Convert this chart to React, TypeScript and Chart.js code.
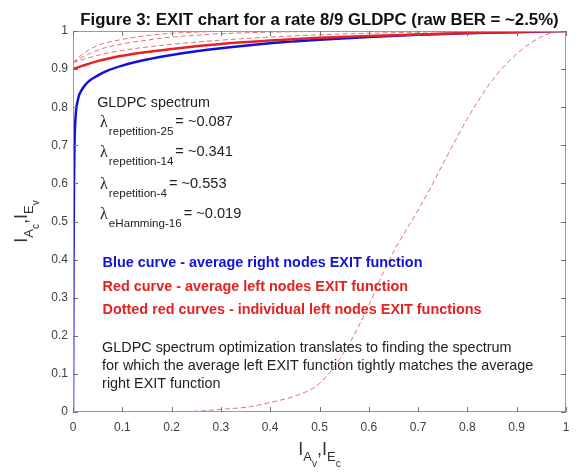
import React, { useEffect, useRef } from 'react';
import { Chart, registerables } from 'chart.js';

Chart.register(...registerables);

// ---- Data ----
const xTickLabels = ['0', '0.1', '0.2', '0.3', '0.4', '0.5', '0.6', '0.7', '0.8', '0.9', '1'];
const yTickLabels = ['0', '0.1', '0.2', '0.3', '0.4', '0.5', '0.6', '0.7', '0.8', '0.9', '1'];

// Blue: average right (check) nodes EXIT function
const blueX = [0, 0.0005, 0.001, 0.002, 0.003, 0.005, 0.01, 0.02, 0.03, 0.05, 0.07, 0.1, 0.15, 0.2, 0.25, 0.3, 0.4, 0.5, 0.6, 0.7, 0.8, 0.9, 1];
const blueY = [0, 0.2, 0.4, 0.6, 0.7, 0.77, 0.82, 0.85, 0.866, 0.883, 0.896, 0.909, 0.925, 0.937, 0.947, 0.955, 0.968, 0.977, 0.984, 0.99, 0.994, 0.997, 1];

// Red: average left nodes EXIT function
const redX = [0, 0.02, 0.05, 0.1, 0.15, 0.2, 0.25, 0.3, 0.4, 0.5, 0.6, 0.7, 0.8, 0.9, 1];
const redY = [0.9, 0.909, 0.921, 0.935, 0.945, 0.953, 0.96, 0.966, 0.975, 0.982, 0.987, 0.991, 0.995, 0.998, 1];

// Dashed: individual left node EXIT functions
const rep25X = [0, 0.02, 0.05, 0.1, 0.15, 0.2, 0.25, 0.3, 0.4, 0.5, 1];
const rep25Y = [0.917, 0.94, 0.962, 0.978, 0.988, 0.994, 0.997, 0.999, 1, 1, 1];
const rep14X = [0, 0.02, 0.05, 0.1, 0.15, 0.2, 0.25, 0.3, 0.4, 0.5, 0.6, 1];
const rep14Y = [0.917, 0.932, 0.95, 0.966, 0.976, 0.984, 0.989, 0.993, 0.997, 0.999, 1, 1];
const rep4X = [0, 0.02, 0.05, 0.1, 0.2, 0.3, 0.4, 0.5, 0.6, 0.7, 0.8, 0.9, 1];
const rep4Y = [0.917, 0.925, 0.936, 0.949, 0.965, 0.976, 0.984, 0.99, 0.994, 0.997, 0.999, 1, 1];
const ham16X = [0, 0.1, 0.2, 0.25, 0.3, 0.36, 0.4, 0.45, 0.5, 0.556, 0.6, 0.62, 0.65, 0.7, 0.726, 0.75, 0.8, 0.85, 0.9, 0.95, 0.98, 1];
const ham16Y = [0, 0, 0.001, 0.002, 0.007, 0.014, 0.025, 0.042, 0.075, 0.17, 0.28, 0.34, 0.42, 0.53, 0.59, 0.65, 0.77, 0.87, 0.94, 0.985, 0.998, 1];

const titleText = 'Figure 3: EXIT chart for a rate 8/9 GLDPC (raw BER = ~2.5%)';
const spectrumHeader = 'GLDPC spectrum';
const spectrumNames = ['repetition-25', 'repetition-14', 'repetition-4', 'eHamming-16'];
const spectrumValues = ['= ~0.087', '= ~0.341', '= ~0.553', '= ~0.019'];
const legendLines = [
  'Blue curve - average right nodes EXIT function',
  'Red curve - average left nodes EXIT function',
  'Dotted red curves - individual left nodes EXIT functions',
];
const noteLines = [
  'GLDPC spectrum optimization translates to finding the spectrum',
  'for which the average left EXIT function tightly matches the average',
  'right EXIT function',
];

// annotation anchor positions in data units
const headerPos = { x: 0.049, y: 0.811 };
const lambdaX = 0.055;
const lambdaY = [0.759, 0.68, 0.597, 0.518];
const legendX = 0.06;
const legendY = [0.391, 0.328, 0.268];
const noteX = 0.059;
const noteY = [0.168, 0.121, 0.073];

const BLUE = '#1212d6';
const RED = '#e52222';
const DASH = 'rgba(222,90,90,0.85)';
const SANS = '"Liberation Sans", Arial, sans-serif';

const pts = (xs: number[], ys: number[]) => xs.map((x, i) => ({ x, y: ys[i] }));

type Seg = { t: string; size: number; dy: number; family?: string; weight?: string; gap?: number };

function drawSeq(ctx: CanvasRenderingContext2D, x: number, y: number, segs: Seg[]) {
  let cx = x;
  for (const s of segs) {
    ctx.font = `${s.weight || 'normal'} ${s.size}px ${s.family || SANS}`;
    cx += s.gap || 0;
    ctx.fillText(s.t, cx, y + s.dy);
    cx += ctx.measureText(s.t).width;
  }
  return cx - x;
}

function seqWidth(ctx: CanvasRenderingContext2D, segs: Seg[]) {
  let w = 0;
  for (const s of segs) {
    ctx.font = `${s.weight || 'normal'} ${s.size}px ${s.family || SANS}`;
    w += (s.gap || 0) + ctx.measureText(s.t).width;
  }
  return w;
}

const decorPlugin = {
  id: 'decor',
  afterDatasetsDraw(chart: any) {
    const ctx: CanvasRenderingContext2D = chart.ctx;
    const { left, right, top, bottom } = chart.chartArea;
    const xs = chart.scales.x;
    const ys = chart.scales.y;
    ctx.save();
    // box
    ctx.strokeStyle = '#9a9a9a';
    ctx.lineWidth = 1;
    ctx.strokeRect(left + 0.5, top + 0.5, right - left - 1, bottom - top - 1);
    // inward ticks
    ctx.strokeStyle = '#707070';
    ctx.beginPath();
    xs.ticks.forEach((t: any) => {
      const px = Math.round(xs.getPixelForValue(t.value)) + 0.5;
      ctx.moveTo(px, bottom);
      ctx.lineTo(px, bottom - 5);
      ctx.moveTo(px, top);
      ctx.lineTo(px, top + 5);
    });
    ys.ticks.forEach((t: any) => {
      const py = Math.round(ys.getPixelForValue(t.value)) + 0.5;
      ctx.moveTo(left, py);
      ctx.lineTo(left + 5, py);
      ctx.moveTo(right, py);
      ctx.lineTo(right - 5, py);
    });
    ctx.stroke();

    // title
    ctx.fillStyle = '#111';
    ctx.font = `bold 16.8px ${SANS}`;
    ctx.textAlign = 'center';
    ctx.textBaseline = 'alphabetic';
    ctx.fillText(titleText, (left + right) / 2, 25);

    // annotations
    ctx.textAlign = 'left';
    ctx.textBaseline = 'middle';
    ctx.fillStyle = '#222';
    ctx.font = `14.4px ${SANS}`;
    ctx.fillText(spectrumHeader, xs.getPixelForValue(headerPos.x), ys.getPixelForValue(headerPos.y));

    spectrumNames.forEach((name, i) => {
      const px = xs.getPixelForValue(lambdaX);
      const py = ys.getPixelForValue(lambdaY[i]);
      drawSeq(ctx, px, py, [
        { t: 'λ', size: 16, dy: 0, family: '"Liberation Serif", "DejaVu Serif", serif' },
        { t: name, size: 11.6, dy: 9, gap: 1 },
        { t: spectrumValues[i], size: 14.6, dy: -1, gap: 2 },
      ]);
    });

    ctx.font = `bold 14.4px ${SANS}`;
    legendLines.forEach((line, i) => {
      ctx.fillStyle = i === 0 ? BLUE : RED;
      ctx.fillText(line, xs.getPixelForValue(legendX), ys.getPixelForValue(legendY[i]));
    });

    ctx.fillStyle = '#222';
    ctx.font = `14.4px ${SANS}`;
    noteLines.forEach((line, i) => {
      ctx.fillText(line, xs.getPixelForValue(noteX), ys.getPixelForValue(noteY[i]));
    });

    // axis labels
    ctx.textBaseline = 'alphabetic';
    ctx.fillStyle = '#333';
    const xLab: Seg[] = [
      { t: 'I', size: 18, dy: 0 },
      { t: 'A', size: 13, dy: 6 },
      { t: 'v', size: 10, dy: 12 },
      { t: ',', size: 18, dy: 0 },
      { t: 'I', size: 18, dy: 0 },
      { t: 'E', size: 13, dy: 6 },
      { t: 'c', size: 10, dy: 12 },
    ];
    const wx = seqWidth(ctx, xLab);
    drawSeq(ctx, (left + right) / 2 - wx / 2, 455, xLab);

    const yLab: Seg[] = [
      { t: 'I', size: 18, dy: 0 },
      { t: 'A', size: 13, dy: 6 },
      { t: 'c', size: 10, dy: 12 },
      { t: ',', size: 18, dy: 0 },
      { t: 'I', size: 18, dy: 0 },
      { t: 'E', size: 13, dy: 6 },
      { t: 'v', size: 10, dy: 12 },
    ];
    const wy = seqWidth(ctx, yLab);
    ctx.translate(27, (top + bottom) / 2);
    ctx.rotate(-Math.PI / 2);
    drawSeq(ctx, -wy / 2, 0, yLab);
    ctx.restore();
  },
};

export default function App() {
  const canvasRef = useRef<HTMLCanvasElement | null>(null);

  useEffect(() => {
    if (!canvasRef.current) return;
    const dashed = (data: { x: number; y: number }[]) => ({
      data,
      borderColor: DASH,
      borderWidth: 1,
      borderDash: [5, 3],
      pointRadius: 0,
      fill: false,
      cubicInterpolationMode: 'monotone' as const,
      order: 0,
    });
    const chart = new Chart(canvasRef.current, {
      type: 'line',
      data: {
        datasets: [
          dashed(pts(rep25X, rep25Y)),
          dashed(pts(rep14X, rep14Y)),
          dashed(pts(rep4X, rep4Y)),
          dashed(pts(ham16X, ham16Y)),
          {
            data: pts(redX, redY),
            borderColor: RED,
            borderWidth: 2.5,
            pointRadius: 0,
            fill: false,
            cubicInterpolationMode: 'monotone',
            order: 1,
          },
          {
            data: pts(blueX, blueY),
            borderColor: BLUE,
            borderWidth: 2.5,
            pointRadius: 0,
            fill: false,
            cubicInterpolationMode: 'monotone',
            order: 2,
          },
        ],
      },
      options: {
        animation: false,
        responsive: false,
        maintainAspectRatio: false,
        layout: { padding: { top: 31, right: 14, left: 0, bottom: 0 } },
        plugins: { legend: { display: false }, tooltip: { enabled: false }, title: { display: false } },
        scales: {
          x: {
            type: 'linear',
            min: 0,
            max: 1,
            grid: { display: false, drawTicks: false },
            border: { display: false },
            ticks: {
              stepSize: 0.1,
              padding: 8,
              color: '#404040',
              font: { size: 12, family: SANS },
              maxRotation: 0,
              callback: (_v: any, i: number) => xTickLabels[i],
            },
            afterFit: (s: any) => {
              s.height = 63;
            },
          },
          y: {
            type: 'linear',
            min: 0,
            max: 1,
            grid: { display: false, drawTicks: false },
            border: { display: false },
            ticks: {
              stepSize: 0.1,
              padding: 5,
              color: '#404040',
              font: { size: 12, family: SANS },
              callback: (_v: any, i: number) => yTickLabels[i],
            },
            afterFit: (s: any) => {
              s.width = 73;
            },
          },
        },
      },
      plugins: [decorPlugin],
    });
    return () => chart.destroy();
  }, []);

  return (
    <div style={{ position: 'fixed', left: 0, top: 0, width: 580, height: 475, background: '#fff' }}>
      <canvas ref={canvasRef} width={580} height={475} style={{ width: 580, height: 475 }} />
    </div>
  );
}
